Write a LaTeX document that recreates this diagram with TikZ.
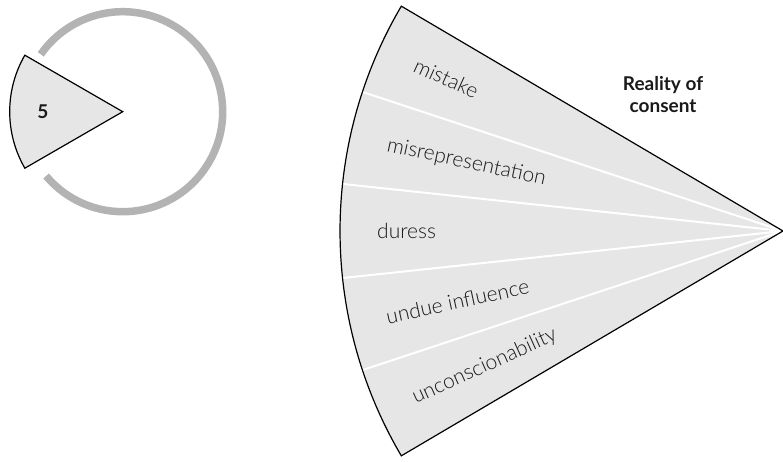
\documentclass[tikz,border=0pt]{standalone}
\usepackage{fontspec}
\usepackage{tikz}
\usetikzlibrary{calc}
\setmainfont{Lato}
\IfFontExistsTF{Lato Light}{\newfontfamily\lightfont{Lato Light}}{\newfontfamily\lightfont{Lato}}
\definecolor{wedgegray}{HTML}{E6E6E6}
\definecolor{ringgray}{HTML}{B3B3B3}
\definecolor{inkdark}{HTML}{1A1A1A}
\tikzstyle{wedge}=[fill=wedgegray]
\tikzstyle{outline}=[draw=black, line width=1.2pt, line join=miter]
\tikzstyle{divider}=[draw=white, line width=2pt]
\tikzstyle{ring}=[draw=ringgray, line width=7.5pt]
\tikzstyle{ground}=[inner sep=0pt, anchor=west, text=inkdark, font=\lightfont\fontsize{21}{24}\selectfont]
\tikzset{
    title/.style={
         inner sep=0pt, align=center, text=inkdark, font=\bfseries\fontsize{19}{22}\selectfont
    }
}

\begin{document}
\begin{tikzpicture}[x=1pt, y=1pt]
  \useasboundingbox (0,0) rectangle (783,462);

  % small key wedge
  \coordinate (keyc) at (122.7,350.3);
  \draw[ring] ($(keyc)+(145:100)$) arc[start angle=145, end angle=-140, radius=100];
  \draw[wedge, outline] (keyc) -- ++(150:113) arc[start angle=150, end angle=210, radius=113] -- cycle;
  \node[inner sep=0pt, text=inkdark, font=\bfseries\fontsize{19}{22}\selectfont] (num) at (43,350) {5};

  % big fan
  \coordinate (apex) at (783,231);
  \fill[wedge] (apex) -- ++(149.5:443) arc[start angle=149.5, end angle=210.5, radius=443] -- cycle;
  \draw[divider] (apex) -- ++(161.7:443);
  \draw[divider] (apex) -- ++(173.9:443);
  \draw[divider] (apex) -- ++(186.1:443);
  \draw[divider] (apex) -- ++(198.3:443);
  \draw[outline] (apex) -- ++(149.5:443) arc[start angle=149.5, end angle=210.5, radius=443] -- cycle;

  \node[ground, rotate=-24.4] (mistake) at ($(apex)+(155.6:404)$) {mistake};
  \node[ground, rotate=-12.2] (misrep) at ($(apex)+(167.8:405)$) {misrepresentation};
  \node[ground] (duress) at ($(apex)+(180:406)$) {duress};
  \node[ground, rotate=12.2] (undue) at ($(apex)+(192.2:406)$) {undue influence};
  \node[ground, rotate=24.4] (unconsc) at ($(apex)+(204.4:406)$) {unconscionability};

  \node[title] (reality) at (663,367) {Reality of\\consent};
\end{tikzpicture}
\end{document}
